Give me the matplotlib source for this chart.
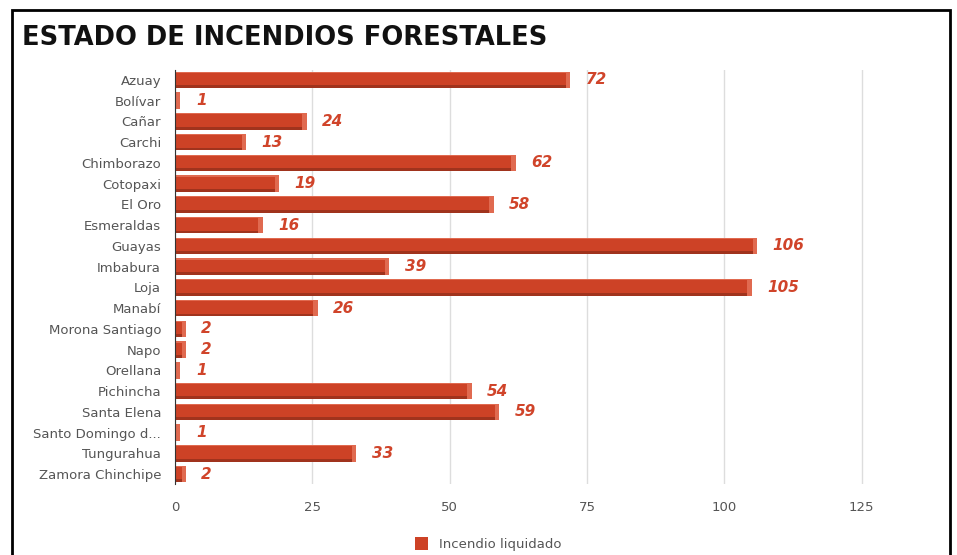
import matplotlib.pyplot as plt
from matplotlib.patches import Rectangle

provincias = ['Azuay', 'Bolívar', 'Cañar', 'Carchi', 'Chimborazo', 'Cotopaxi',
              'El Oro', 'Esmeraldas', 'Guayas', 'Imbabura', 'Loja', 'Manabí',
              'Morona Santiago', 'Napo', 'Orellana', 'Pichincha', 'Santa Elena',
              'Santo Domingo d...', 'Tungurahua', 'Zamora Chinchipe']
incendios = [72, 1, 24, 13, 62, 19, 58, 16, 106, 39, 105, 26, 2, 2, 1, 54, 59, 1, 33, 2]
ticks_x = [0, 25, 50, 75, 100, 125]

rojo = '#cd4226'
oscuro = '#a0331d'
claro = '#e06a50'

fig = plt.figure(figsize=(9.57, 5.55), dpi=100)
fig.patches.append(Rectangle((12 / 957, -0.01), 938 / 957, 1 - 10 / 555 + 0.01,
                             transform=fig.transFigure, fill=False,
                             edgecolor='black', linewidth=2))
fig.text(22 / 957, 1 - 45 / 555, 'ESTADO DE INCENDIOS FORESTALES',
         fontsize=18.5, fontweight='bold', color='#111111')

ax = fig.add_axes([175 / 957, 1 - 484.4 / 555, 725 / 957, (484.4 - 69.6) / 555])
y = list(range(len(provincias)))

# cara principal + franjas para simular el efecto 3D
ax.barh(y, incendios, height=0.8, color=rojo, zorder=3, label='Incendio liquidado')
ax.barh([v + 0.33 for v in y], incendios, height=0.14, color=oscuro, zorder=4)
ax.barh([v - 0.37 for v in y], incendios, height=0.06, color=claro, zorder=4)
ax.barh(y, [0.8] * len(y), left=[v - 0.8 for v in incendios], height=0.8,
        color=claro, zorder=5)

for yi, v in zip(y, incendios):
    ax.text(v + 2.8, yi, str(v), va='center', ha='left', fontsize=11,
            fontstyle='italic', fontweight='bold', color='#d0442a')

ax.set_xlim(0, 132)
ax.set_ylim(len(provincias) - 0.5, -0.5)
ax.set_yticks(y)
ax.set_yticklabels(provincias)
ax.set_xticks(ticks_x)
ax.tick_params(axis='y', length=0, pad=10, labelsize=9.5, labelcolor='#555555')
ax.tick_params(axis='x', length=0, pad=12, labelsize=9.5, labelcolor='#555555')
ax.grid(axis='x', color='#dddddd', linewidth=1, zorder=0)
for s in ['top', 'right', 'bottom']:
    ax.spines[s].set_visible(False)
ax.spines['left'].set_color('#333333')
ax.spines['left'].set_zorder(6)

fig.legend(*ax.get_legend_handles_labels(), loc='center',
           bbox_to_anchor=(0.51, 1 - 544 / 555), frameon=False, fontsize=9.5,
           labelcolor='#555555', handlelength=1, handleheight=1.2)

fig.savefig('out.png', dpi=100)
